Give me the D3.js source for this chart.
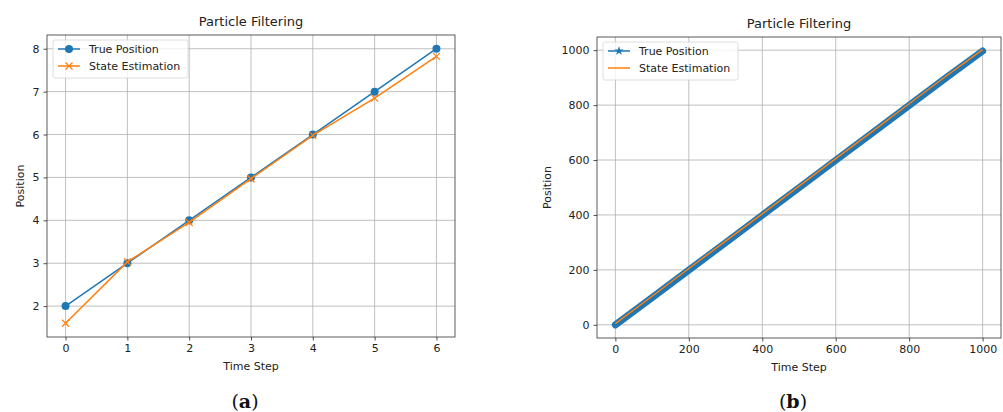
<!DOCTYPE html>
<html>
<head>
<meta charset="utf-8">
<script src="https://cdn.jsdelivr.net/npm/d3@7"></script>
<style>
  body { margin: 0; background: #fff; }
  svg { display: block; font-family: "DejaVu Sans", sans-serif; }
</style>
</head>
<body>
<svg></svg>
<script>
const svgWidth = 1003
const svgHeight = 412

// panel (a) data
const stepsA = [0, 1, 2, 3, 4, 5, 6]
const trueA = [2, 3, 4, 5, 6, 7, 8]
const estA = [1.6, 3.03, 3.95, 4.97, 5.98, 6.85, 7.82]
const xTicksA = [0, 1, 2, 3, 4, 5, 6]
const yTicksA = [2, 3, 4, 5, 6, 7, 8]

// panel (b) data (read every 100 steps)
const stepsB = [0, 100, 200, 300, 400, 500, 600, 700, 800, 900, 1000]
const trueB = [0, 99, 199, 299, 399, 499, 599, 699, 799, 899, 997]
const estB = [4, 104, 205, 305, 404, 505, 605, 704, 805, 905, 1002]
const xTicksB = [0, 200, 400, 600, 800, 1000]
const yTicksB = [0, 200, 400, 600, 800, 1000]

const seriesNames = ["True Position", "State Estimation"]
const blue = "#1f77b4"
const orange = "#ff7f0e"

const svg = d3.select("svg")
    .attr("width", svgWidth)
    .attr("height", svgHeight)

function starPath(r) {
    return d3.symbol().type(d3.symbolStar).size(r * r * 3)()
}

function drawPanel(cfg) {
    const box = cfg.box
    const w = box.right - box.left
    const h = box.bottom - box.top
    const xScale = d3.scaleLinear().domain(cfg.xDomain).range([0, w])
    const yScale = d3.scaleLinear().domain(cfg.yDomain).range([h, 0])

    const g = svg.append("g")
        .attr("transform", `translate(${box.left},${box.top})`)

    // grid
    g.selectAll(".gx").data(cfg.xTicks).join("line")
        .attr("x1", d => xScale(d)).attr("x2", d => xScale(d))
        .attr("y1", 0).attr("y2", h)
        .attr("stroke", "#b0b0b0").attr("stroke-width", 0.8)
    g.selectAll(".gy").data(cfg.yTicks).join("line")
        .attr("class", "gy")
        .attr("x1", 0).attr("x2", w)
        .attr("y1", d => yScale(d)).attr("y2", d => yScale(d))
        .attr("stroke", "#b0b0b0").attr("stroke-width", 0.8)

    // axes
    const fmt = d3.format("d")
    const xAxis = g.append("g")
        .attr("transform", `translate(0,${h})`)
        .call(d3.axisBottom(xScale).tickValues(cfg.xTicks).tickFormat(fmt)
            .tickSize(3.5).tickPadding(4).tickSizeOuter(0))
    const yAxis = g.append("g")
        .call(d3.axisLeft(yScale).tickValues(cfg.yTicks).tickFormat(fmt)
            .tickSize(3.5).tickPadding(4).tickSizeOuter(0))
    for (const ax of [xAxis, yAxis]) {
        ax.select(".domain").remove()
        ax.selectAll("text").attr("font-size", 11).attr("fill", "#222")
            .attr("font-family", "DejaVu Sans")
        ax.selectAll("line").attr("stroke", "#222").attr("stroke-width", 0.8)
    }

    const line = d3.line()
        .x((d, i) => xScale(cfg.steps[i]))
        .y(d => yScale(d))

    if (cfg.band) {
        // dense star markers form a thick band
        g.append("path").datum(cfg.trueVals)
            .attr("d", line).attr("fill", "none")
            .attr("stroke", blue).attr("stroke-width", 7)
            .attr("stroke-linecap", "round")
    }
    g.append("path").datum(cfg.trueVals)
        .attr("d", line).attr("fill", "none")
        .attr("stroke", blue).attr("stroke-width", 1.5)
    if (cfg.trueMarker === "circle") {
        g.selectAll(".mt").data(cfg.trueVals).join("circle")
            .attr("cx", (d, i) => xScale(cfg.steps[i]))
            .attr("cy", d => yScale(d))
            .attr("r", 4).attr("fill", blue)
    }
    g.append("path").datum(cfg.estVals)
        .attr("d", line).attr("fill", "none")
        .attr("stroke", orange).attr("stroke-width", 1.5)
    if (cfg.estMarker === "x") {
        g.selectAll(".me").data(cfg.estVals).join("path")
            .attr("d", "M-3.5,-3.5L3.5,3.5M-3.5,3.5L3.5,-3.5")
            .attr("transform", (d, i) => `translate(${xScale(cfg.steps[i])},${yScale(d)})`)
            .attr("stroke", orange).attr("stroke-width", 1.2).attr("fill", "none")
    }

    // frame
    g.append("rect")
        .attr("width", w).attr("height", h)
        .attr("fill", "none").attr("stroke", "#333").attr("stroke-width", 0.8)

    // title and axis labels
    svg.append("text").text("Particle Filtering")
        .attr("x", box.left + w / 2).attr("y", box.top - 9)
        .attr("text-anchor", "middle").attr("font-size", 13).attr("fill", "#222")
    svg.append("text").text("Time Step")
        .attr("x", box.left + w / 2).attr("y", box.bottom + 33)
        .attr("text-anchor", "middle").attr("font-size", 11).attr("fill", "#222")
    svg.append("text").text("Position")
        .attr("transform", `translate(${cfg.yLabelX},${box.top + h / 2}) rotate(-90)`)
        .attr("text-anchor", "middle").attr("font-size", 11).attr("fill", "#222")

    // legend
    const lg = svg.append("g")
        .attr("transform", `translate(${box.left + 6},${box.top + 5})`)
    lg.append("rect")
        .attr("width", cfg.legendWidth).attr("height", 38).attr("rx", 2)
        .attr("fill", "#fff").attr("fill-opacity", 0.8)
        .attr("stroke", "#d6d6d6").attr("stroke-width", 0.8)
    seriesNames.forEach((name, i) => {
        const yy = 9 + i * 17
        const color = i === 0 ? blue : orange
        lg.append("line")
            .attr("x1", 5).attr("x2", 27).attr("y1", yy).attr("y2", yy)
            .attr("stroke", color).attr("stroke-width", 1.5)
        const marker = i === 0 ? cfg.trueMarker : cfg.estMarker
        if (marker === "circle") {
            lg.append("circle").attr("cx", 16).attr("cy", yy).attr("r", 4).attr("fill", color)
        } else if (marker === "x") {
            lg.append("path")
                .attr("d", "M-3.5,-3.5L3.5,3.5M-3.5,3.5L3.5,-3.5")
                .attr("transform", `translate(16,${yy})`)
                .attr("stroke", color).attr("stroke-width", 1.2)
        } else if (marker === "star") {
            lg.append("path").attr("d", starPath(3))
                .attr("transform", `translate(16,${yy})`)
                .attr("fill", color)
        }
        lg.append("text").text(name)
            .attr("x", 36).attr("y", yy + 4)
            .attr("font-size", 11).attr("fill", "#222")
    })

    // caption
    const cap = svg.append("text")
        .attr("x", box.left + w / 2 - 6).attr("y", 408)
        .attr("text-anchor", "middle")
        .attr("font-family", "DejaVu Serif, Liberation Serif, serif")
        .attr("font-size", 19).attr("fill", "#111")
    cap.append("tspan").text("(")
    cap.append("tspan").text(cfg.caption).attr("font-weight", "bold")
    cap.append("tspan").text(")")
}

drawPanel({
    box: { left: 47, right: 455, top: 35, bottom: 337 },
    xDomain: [-0.3, 6.3], yDomain: [1.28, 8.32],
    xTicks: xTicksA, yTicks: yTicksA,
    steps: stepsA, trueVals: trueA, estVals: estA,
    trueMarker: "circle", estMarker: "x",
    yLabelX: 24, legendWidth: 135, caption: "a"
})

drawPanel({
    box: { left: 597, right: 1001, top: 37, bottom: 338 },
    xDomain: [-50, 1050], yDomain: [-48, 1048],
    xTicks: xTicksB, yTicks: yTicksB,
    steps: stepsB, trueVals: trueB, estVals: estB,
    trueMarker: "star", estMarker: null, band: true,
    yLabelX: 551, legendWidth: 135, caption: "b"
})
</script>
</body>
</html>
